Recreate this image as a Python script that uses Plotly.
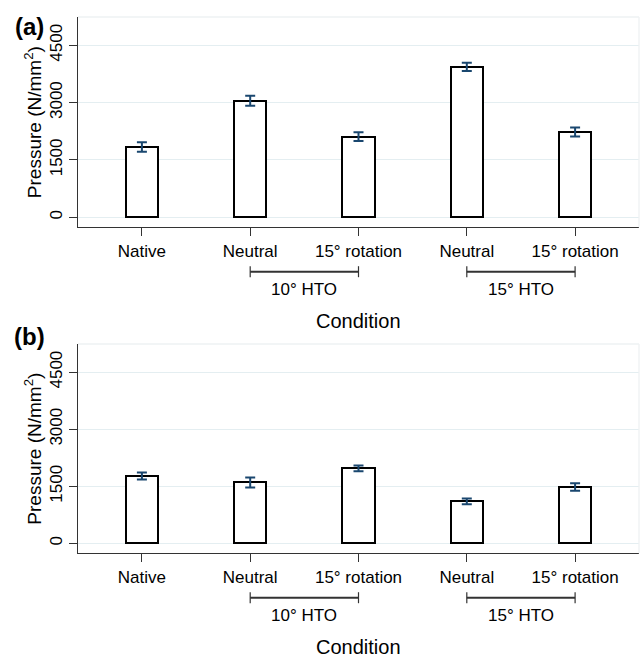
import plotly.graph_objects as go

categories = ["Native", "Neutral", "15° rotation", "Neutral", "15° rotation"]
positions = [1, 2, 3, 4, 5]
groups = ["10° HTO", "15° HTO"]
group_spans = [(2, 3), (4, 5)]

means_a = [1840, 3050, 2110, 3935, 2230]
err_a = [125, 130, 112, 105, 118]
means_b = [1770, 1600, 1970, 1105, 1480]
err_b = [90, 130, 75, 75, 100]

y_ticks = [0, 1500, 3000, 4500]

W, H = 640, 657
FONT = "Liberation Sans, Arial, sans-serif"
NAVY = "#1a476f"
GRID = "#e4eef1"
AX = "#333333"

def py(p):
    return 1 - p / H

x_dom = [78 / W, 639 / W]
panels = [
    dict(means=means_a, err=err_a, top=17, bottom=227.3, label="(a)", lab_y=27),
    dict(means=means_b, err=err_b, top=344, bottom=553.3, label="(b)", lab_y=336.5),
]

fig = go.Figure()
annotations = []
shapes = []

for i, p in enumerate(panels):
    n = i + 1
    xa = "x" if n == 1 else f"x{n}"
    ya = "y" if n == 1 else f"y{n}"
    fig.add_trace(go.Bar(
        x=positions, y=p["means"], width=0.3,
        marker=dict(color="white", line=dict(color="black", width=2)),
        error_y=dict(type="data", array=p["err"], color=NAVY, thickness=2, width=5),
        xaxis=xa, yaxis=ya, showlegend=False, hoverinfo="skip",
    ))
    axkey = "xaxis" if n == 1 else f"xaxis{n}"
    aykey = "yaxis" if n == 1 else f"yaxis{n}"
    fig.layout[axkey] = dict(
        domain=x_dom, anchor=ya, range=[0.41, 5.59],
        tickvals=positions, ticktext=categories,
        ticks="outside", ticklen=8, tickcolor=AX, tickwidth=1,
        showline=True, linecolor=AX, linewidth=1.3,
        showgrid=False, zeroline=False, automargin=False,
        tickfont=dict(family=FONT, size=17, color="black"),
    )
    fig.layout[aykey] = dict(
        domain=[py(p["bottom"]), py(p["top"])], anchor=xa,
        range=[-262, 5240],
        tickvals=y_ticks, ticktext=[str(v) for v in y_ticks], tickangle=-90,
        ticks="outside", ticklen=8, tickcolor=AX, tickwidth=1,
        showline=True, linecolor=AX, linewidth=1.3,
        showgrid=True, gridcolor=GRID, gridwidth=1.3, zeroline=False,
        automargin=False,
        tickfont=dict(family=FONT, size=17, color="black"),
    )
    # faint plot-region outline (top and right)
    shapes.append(dict(type="line", xref="paper", yref="paper",
                       x0=x_dom[0], x1=x_dom[1], y0=py(p["top"]), y1=py(p["top"]),
                       line=dict(color="#eef2f3", width=1.3)))
    shapes.append(dict(type="line", xref="paper", yref="paper",
                       x0=x_dom[1], x1=x_dom[1], y0=py(p["bottom"]), y1=py(p["top"]),
                       line=dict(color="#eef2f3", width=1.3)))
    # group brackets
    by = p["bottom"] + 44.4
    for g, (a, b) in zip(groups, group_spans):
        shapes.append(dict(type="line", xref=xa, yref="paper", x0=a, x1=b,
                           y0=py(by), y1=py(by), line=dict(color=AX, width=2)))
        for xe in (a, b):
            shapes.append(dict(type="line", xref=xa, yref="paper", x0=xe, x1=xe,
                               y0=py(by - 5.5), y1=py(by + 5.5),
                               line=dict(color=AX, width=1.2)))
        annotations.append(dict(text=g, xref=xa, yref="paper", x=(a + b) / 2,
                                y=py(by + 18), showarrow=False, yanchor="middle",
                                font=dict(family=FONT, size=17, color="black")))
    # x title
    annotations.append(dict(text="Condition", xref="paper", yref="paper",
                            x=(x_dom[0] + x_dom[1]) / 2, y=py(p["bottom"] + 93.5),
                            showarrow=False, yanchor="middle",
                            font=dict(family=FONT, size=20, color="black")))
    # y title
    annotations.append(dict(text="Pressure (N/mm<sup>2</sup>)", xref="paper", yref="paper",
                            x=33 / W, y=py((p["top"] + p["bottom"]) / 2),
                            showarrow=False, textangle=-90, xanchor="center", yanchor="middle",
                            font=dict(family=FONT, size=19, color="black")))
    # panel label
    annotations.append(dict(text="<b>" + p["label"] + "</b>", xref="paper", yref="paper",
                            x=29 / W, y=py(p["lab_y"]), showarrow=False,
                            xanchor="center", yanchor="middle",
                            font=dict(family=FONT, size=24, color="black")))

fig.update_layout(
    width=W, height=H,
    margin=dict(l=0, r=0, t=0, b=0),
    paper_bgcolor="white", plot_bgcolor="white",
    annotations=annotations, shapes=shapes,
    bargap=0, hovermode=False,
)
fig.write_html("out.html", config={"displayModeBar": False},
               post_script="document.body.style.margin='0px';")
